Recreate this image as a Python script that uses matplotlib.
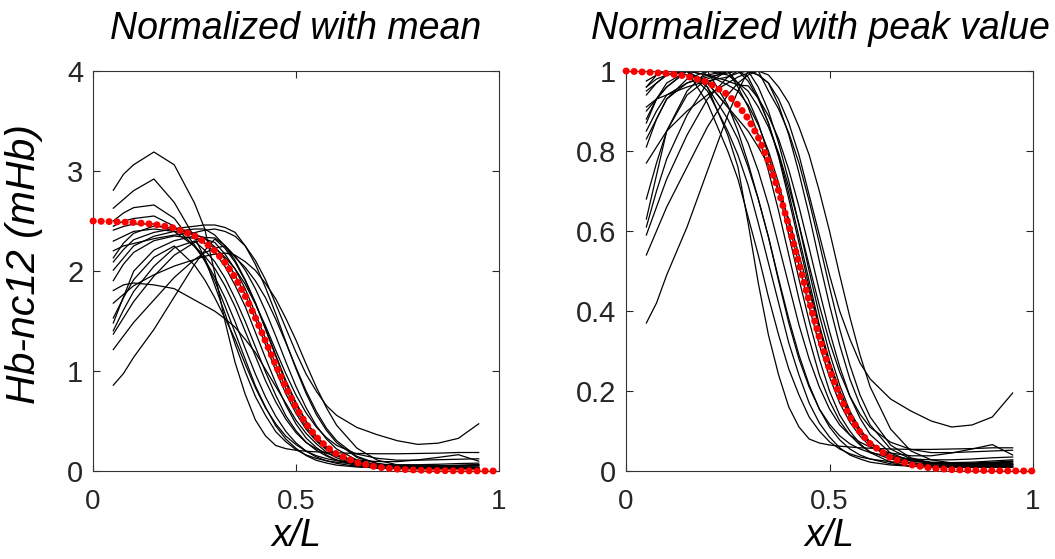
import matplotlib
matplotlib.use("Agg")
import matplotlib.pyplot as plt
import numpy as np

plt.rcParams['font.family'] = ['Liberation Sans', 'DejaVu Sans']

# positions along the embryo (x/L) at which the profiles were read
x_profile = [0.05, 0.075, 0.10, 0.15, 0.20, 0.25, 0.275, 0.30, 0.325, 0.35, 0.375, 0.40, 0.425,
             0.45, 0.475, 0.50, 0.525, 0.55, 0.575, 0.60, 0.65, 0.70, 0.75, 0.80, 0.85, 0.90, 0.95]

# Hb-nc12 profiles normalized with their peak value (right panel)
emb01 = [0.88, 0.93, 0.96, 1.00, 0.96, 0.84, 0.76, 0.62, 0.47, 0.34, 0.24, 0.16, 0.11, 0.08, 0.07, 0.065, 0.062, 0.060, 0.058, 0.057, 0.055, 0.054, 0.054, 0.055, 0.056, 0.058, 0.058]
emb02 = [0.90, 0.93, 0.96, 1.00, 0.92, 0.80, 0.73, 0.635, 0.54, 0.435, 0.34, 0.255, 0.19, 0.135, 0.10, 0.073, 0.055, 0.043, 0.035, 0.03, 0.023, 0.02, 0.018, 0.018, 0.018, 0.018, 0.018]
emb03 = [0.94, 0.97, 0.99, 1.00, 0.95, 0.85, 0.79, 0.715, 0.62, 0.52, 0.42, 0.32, 0.24, 0.17, 0.12, 0.085, 0.058, 0.04, 0.03, 0.022, 0.015, 0.012, 0.012, 0.012, 0.012, 0.012, 0.012]
emb04 = [0.96, 0.98, 0.99, 1.00, 0.96, 0.88, 0.83, 0.76, 0.68, 0.585, 0.48, 0.38, 0.29, 0.215, 0.155, 0.11, 0.078, 0.055, 0.04, 0.03, 0.018, 0.012, 0.01, 0.009, 0.009, 0.009, 0.009]
emb05 = [0.975, 0.99, 1.00, 1.00, 0.97, 0.91, 0.87, 0.82, 0.75, 0.665, 0.565, 0.465, 0.365, 0.28, 0.21, 0.155, 0.115, 0.09, 0.072, 0.06, 0.045, 0.038, 0.038, 0.045, 0.055, 0.066, 0.04]
emb06 = [0.91, 0.93, 0.94, 0.96, 0.975, 0.985, 0.995, 1.00, 0.99, 0.97, 0.93, 0.87, 0.79, 0.69, 0.59, 0.49, 0.40, 0.33, 0.27, 0.23, 0.18, 0.15, 0.125, 0.11, 0.115, 0.135, 0.195]
emb07 = [0.77, 0.81, 0.85, 0.90, 0.94, 0.97, 0.985, 0.995, 1.00, 0.99, 0.96, 0.92, 0.86, 0.79, 0.70, 0.60, 0.49, 0.385, 0.29, 0.21, 0.105, 0.05, 0.028, 0.02, 0.018, 0.018, 0.018]
emb08 = [0.96, 0.99, 1.00, 0.99, 0.97, 0.91, 0.88, 0.85, 0.81, 0.765, 0.70, 0.63, 0.54, 0.45, 0.36, 0.27, 0.20, 0.145, 0.10, 0.07, 0.035, 0.02, 0.015, 0.015, 0.015, 0.015, 0.015]
emb09 = [0.37, 0.42, 0.49, 0.61, 0.75, 0.89, 0.95, 1.00, 0.96, 0.90, 0.82, 0.725, 0.615, 0.50, 0.39, 0.295, 0.215, 0.15, 0.105, 0.072, 0.035, 0.018, 0.012, 0.01, 0.01, 0.01, 0.01]
emb10 = [0.54, 0.60, 0.66, 0.76, 0.86, 0.94, 0.97, 0.99, 1.00, 0.95, 0.905, 0.845, 0.77, 0.675, 0.57, 0.46, 0.355, 0.265, 0.19, 0.135, 0.065, 0.033, 0.02, 0.016, 0.016, 0.016, 0.016]
emb11 = [0.59, 0.66, 0.73, 0.84, 0.93, 0.985, 1.00, 0.985, 0.935, 0.87, 0.785, 0.68, 0.57, 0.46, 0.355, 0.265, 0.19, 0.135, 0.095, 0.068, 0.04, 0.028, 0.022, 0.021, 0.022, 0.025, 0.028]
emb12 = [0.61, 0.70, 0.78, 0.89, 0.97, 1.00, 0.96, 0.91, 0.84, 0.75, 0.65, 0.54, 0.43, 0.33, 0.24, 0.175, 0.125, 0.09, 0.065, 0.048, 0.03, 0.02, 0.015, 0.015, 0.015, 0.015, 0.015]
emb13 = [0.63, 0.74, 0.85, 0.94, 0.98, 1.00, 0.97, 0.93, 0.87, 0.79, 0.70, 0.59, 0.48, 0.375, 0.28, 0.20, 0.14, 0.10, 0.068, 0.046, 0.022, 0.012, 0.01, 0.01, 0.01, 0.01, 0.01]
emb14 = [0.68, 0.77, 0.85, 0.95, 1.00, 0.915, 0.85, 0.77, 0.68, 0.585, 0.475, 0.37, 0.28, 0.21, 0.155, 0.117, 0.088, 0.068, 0.055, 0.046, 0.036, 0.03, 0.028, 0.028, 0.03, 0.033, 0.035]
emb15 = [0.83, 0.88, 0.93, 0.97, 0.99, 1.00, 1.00, 0.975, 0.93, 0.87, 0.79, 0.695, 0.585, 0.475, 0.365, 0.275, 0.20, 0.14, 0.097, 0.068, 0.033, 0.018, 0.012, 0.012, 0.012, 0.012, 0.012]
emb16 = [0.85, 0.90, 0.94, 0.97, 0.985, 0.995, 1.00, 1.00, 0.99, 0.97, 0.915, 0.84, 0.745, 0.64, 0.525, 0.415, 0.315, 0.23, 0.165, 0.115, 0.055, 0.03, 0.02, 0.018, 0.018, 0.02, 0.024]
emb17 = [0.87, 0.93, 0.97, 1.00, 0.99, 0.965, 0.95, 0.915, 0.865, 0.80, 0.72, 0.62, 0.515, 0.41, 0.315, 0.235, 0.17, 0.122, 0.087, 0.062, 0.035, 0.025, 0.021, 0.02, 0.02, 0.022, 0.025]
emb18 = [0.81, 0.88, 0.93, 0.98, 1.00, 0.99, 0.97, 0.95, 0.91, 0.86, 0.795, 0.71, 0.617, 0.514, 0.414, 0.323, 0.247, 0.187, 0.142, 0.109, 0.072, 0.054, 0.046, 0.046, 0.048, 0.05, 0.052]
emb19 = [0.95, 0.97, 0.99, 1.00, 0.99, 0.975, 0.965, 0.963, 0.932, 0.888, 0.83, 0.753, 0.661, 0.558, 0.451, 0.349, 0.261, 0.187, 0.132, 0.091, 0.045, 0.025, 0.02, 0.018, 0.018, 0.02, 0.022]

profiles_peak = [emb01, emb02, emb03, emb04, emb05, emb06, emb07, emb08, emb09, emb10,
                 emb11, emb12, emb13, emb14, emb15, emb16, emb17, emb18, emb19]

# peak height of each profile when normalized with the mean (left panel)
peak_mean = [3.19, 2.92, 2.66, 2.55, 2.47, 2.42, 2.18, 1.88, 2.32, 2.25,
             2.32, 2.30, 2.35, 2.25, 2.42, 2.46, 2.45, 2.35, 2.42]

# fitted sigmoid (red dotted line), peak-normalized, and its plateau with mean normalization
x_fit = [0.00, 0.05, 0.10, 0.15, 0.20, 0.25, 0.275, 0.30, 0.325, 0.35, 0.375, 0.40, 0.425, 0.45,
         0.475, 0.50, 0.525, 0.55, 0.575, 0.60, 0.65, 0.70, 0.75, 0.80, 0.85, 0.90, 0.95, 1.00]
fit_peak = [1.000, 0.997, 0.994, 0.987, 0.972, 0.941, 0.915, 0.881, 0.834, 0.774, 0.700, 0.613,
            0.519, 0.424, 0.334, 0.254, 0.188, 0.136, 0.097, 0.068, 0.033, 0.0155, 0.0072,
            0.0034, 0.0016, 0.0007, 0.0003, 0.0]
fit_plateau_mean = 2.5

titles = ["Normalized with mean", "Normalized with peak value"]
ylim_list = [(0, 4), (0, 1)]
yticks_list = [[0, 1, 2, 3, 4], [0, 0.2, 0.4, 0.6, 0.8, 1]]
yticklabels_list = [["0", "1", "2", "3", "4"], ["0", "0.2", "0.4", "0.6", "0.8", "1"]]
xticks = [0, 0.5, 1]
xticklabels = ["0", "0.5", "1"]

fig = plt.figure(figsize=(10.55, 5.59), dpi=100)
ax_l = fig.add_axes([93/1055, 88/559, 406/1055, 400/559])
ax_r = fig.add_axes([626/1055, 88/559, 407/1055, 400/559])

for i, ax in enumerate([ax_l, ax_r]):
    for prof, pk in zip(profiles_peak, peak_mean):
        y = np.array(prof, dtype=float)
        if i == 0:
            y = y * pk
        ax.plot(x_profile, y, color='black', lw=0.9, zorder=2)
    fy = np.array(fit_peak, dtype=float)
    if i == 0:
        fy = fy * fit_plateau_mean
    ax.plot(x_fit, fy, color='#ff0000', lw=5.0, linestyle=(0, (0.05, 1.1)),
            dash_capstyle='round', solid_capstyle='round', zorder=3, clip_on=False)
    ax.set_xlim(0, 1)
    ax.set_ylim(*ylim_list[i])
    ax.set_xticks(xticks)
    ax.set_xticklabels(xticklabels)
    ax.set_yticks(yticks_list[i])
    ax.set_yticklabels(yticklabels_list[i])
    ax.tick_params(direction='in', length=5, width=0.8, top=True, right=True,
                   colors='#262626')
    ax.tick_params(axis='y', labelsize=21, pad=7)
    ax.tick_params(axis='x', labelsize=20, pad=13)
    for sp in ax.spines.values():
        sp.set_color('#333333')
        sp.set_linewidth(0.8)
    ax.set_xlabel("x/L", fontsize=27, style='italic', labelpad=2)

ax_l.set_title(titles[0], fontsize=27, style='italic', pad=23)
ax_r.set_title(titles[1], fontsize=27, style='italic', pad=23, x=0.477)
ax_l.set_ylabel("Hb-nc12 (mHb)", fontsize=29.5, style='italic')
ax_l.yaxis.set_label_coords(-0.123, 0.5175)

fig.savefig("out.png", dpi=100)
